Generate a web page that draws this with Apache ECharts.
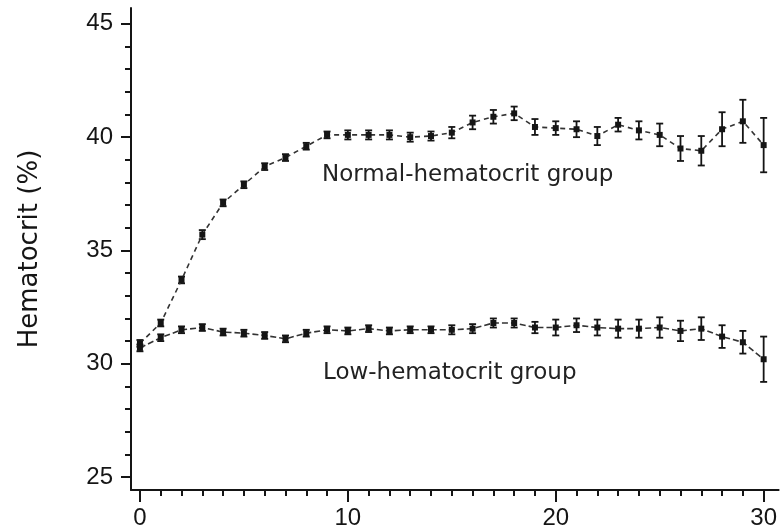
<!DOCTYPE html>
<html>
<head>
<meta charset="utf-8">
<script src="https://cdn.jsdelivr.net/npm/echarts@6/dist/echarts.min.js"></script>
<style>html,body{margin:0;padding:0;background:#fff}#c{width:780px;height:531px}</style>
</head>
<body>
<div id="c"></div>
<script>
const days = [0,1,2,3,4,5,6,7,8,9,10,11,12,13,14,15,16,17,18,19,20,21,22,23,24,25,26,27,28,29,30];
const normalMean = [30.9,31.8,33.7,35.7,37.1,37.9,38.7,39.1,39.6,40.1,40.1,40.1,40.1,40.0,40.05,40.2,40.65,40.9,41.05,40.45,40.4,40.35,40.05,40.55,40.3,40.1,39.5,39.4,40.35,40.7,39.65];
const normalErr  = [0.15,0.15,0.15,0.2,0.15,0.15,0.15,0.15,0.15,0.15,0.2,0.2,0.2,0.2,0.2,0.25,0.3,0.3,0.3,0.35,0.3,0.35,0.4,0.3,0.4,0.5,0.55,0.65,0.75,0.95,1.2];
const lowMean = [30.7,31.15,31.5,31.6,31.4,31.35,31.25,31.1,31.35,31.5,31.45,31.55,31.45,31.5,31.5,31.5,31.55,31.8,31.8,31.6,31.6,31.7,31.6,31.55,31.55,31.6,31.45,31.55,31.2,30.95,30.2];
const lowErr  = [0.15,0.15,0.15,0.15,0.15,0.15,0.15,0.15,0.15,0.15,0.15,0.15,0.15,0.15,0.15,0.2,0.2,0.2,0.2,0.25,0.35,0.3,0.35,0.4,0.4,0.45,0.45,0.5,0.5,0.5,1.0];
const xMajorTicks = [0,10,20,30];
const yMajorTicks = [25,30,35,40,45];
const yMinorTicks = [25,26,27,28,29,30,31,32,33,34,35,36,37,38,39,40,41,42,43,44,45];
const yAxisTitle = 'Hematocrit (%)';
const normalLabel = 'Normal-hematocrit group';
const lowLabel = 'Low-hematocrit group';

const INK = '#151515';
const pairs = (m) => days.map((d, i) => [d, m[i]]);
const bars = (m, e) => days.map((d, i) => [d, m[i] - e[i], m[i] + e[i]]);

function errRender(params, api) {
  const x = api.value(0);
  const lo = api.coord([x, api.value(1)]);
  const hi = api.coord([x, api.value(2)]);
  const w = 3.5;
  const st = { stroke: INK, lineWidth: 1.8 };
  return {
    type: 'group',
    children: [
      { type: 'line', shape: { x1: lo[0], y1: lo[1], x2: hi[0], y2: hi[1] }, style: st },
      { type: 'line', shape: { x1: lo[0] - w, y1: lo[1], x2: lo[0] + w, y2: lo[1] }, style: st },
      { type: 'line', shape: { x1: hi[0] - w, y1: hi[1], x2: hi[0] + w, y2: hi[1] }, style: st }
    ]
  };
}

const xMin = -0.43, xMax = 30.72, yMin = 24.43, yMax = 45.7;
const chart = echarts.init(document.getElementById('c'), null, { renderer: 'canvas' });
chart.setOption({
  backgroundColor: '#ffffff',
  animation: false,
  grid: { left: 131, right: 0, top: 8, bottom: 41, containLabel: false },
  xAxis: [
    {
      type: 'value', min: xMin, max: xMax, position: 'bottom',
      splitLine: { show: false },
      axisLine: { show: true, onZero: false, lineStyle: { color: INK, width: 2 } },
      axisTick: { show: true, customValues: days, length: 6, lineStyle: { color: INK, width: 2 } },
      axisLabel: { customValues: xMajorTicks, color: INK, fontSize: 24, fontFamily: 'Liberation Sans', margin: 16 }
    },
    {
      type: 'value', min: xMin, max: xMax, position: 'bottom', offset: 0,
      splitLine: { show: false },
      axisLine: { show: false, onZero: false },
      axisTick: { show: true, customValues: xMajorTicks, length: 12, lineStyle: { color: INK, width: 2 } },
      axisLabel: { show: false }
    }
  ],
  yAxis: [
    {
      type: 'value', min: yMin, max: yMax, position: 'left',
      splitLine: { show: false },
      name: yAxisTitle, nameLocation: 'middle', nameGap: 88,
      nameTextStyle: { color: INK, fontSize: 26, fontFamily: 'DejaVu Sans' },
      axisLine: { show: true, onZero: false, lineStyle: { color: INK, width: 2 } },
      axisTick: { show: true, customValues: yMinorTicks, length: 6, lineStyle: { color: INK, width: 2 } },
      axisLabel: { customValues: yMajorTicks, color: INK, fontSize: 24, fontFamily: 'Liberation Sans', margin: 18 }
    },
    {
      type: 'value', min: yMin, max: yMax, position: 'left', offset: 0,
      splitLine: { show: false },
      axisLine: { show: false, onZero: false },
      axisTick: { show: true, customValues: yMajorTicks, length: 10, lineStyle: { color: INK, width: 2 } },
      axisLabel: { show: false }
    }
  ],
  graphic: [
    { type: 'text', x: 322, y: 175, style: { text: normalLabel, fill: '#222', fontSize: 23, fontFamily: 'DejaVu Sans', verticalAlign: 'middle' } },
    { type: 'text', x: 323, y: 373, style: { text: lowLabel, fill: '#222', fontSize: 23, fontFamily: 'DejaVu Sans', verticalAlign: 'middle' } }
  ],
  series: [
    {
      type: 'line', data: pairs(normalMean), symbol: 'rect', symbolSize: 6,
      itemStyle: { color: INK }, lineStyle: { color: '#333', width: 1.6, type: [5, 4] }
    },
    {
      type: 'line', data: pairs(lowMean), symbol: 'rect', symbolSize: 6,
      itemStyle: { color: INK }, lineStyle: { color: '#333', width: 1.6, type: [6, 3] }
    },
    { type: 'custom', renderItem: errRender, data: bars(normalMean, normalErr), encode: { x: 0, y: [1, 2] }, z: 3 },
    { type: 'custom', renderItem: errRender, data: bars(lowMean, lowErr), encode: { x: 0, y: [1, 2] }, z: 3 }
  ]
});
</script>
</body>
</html>
